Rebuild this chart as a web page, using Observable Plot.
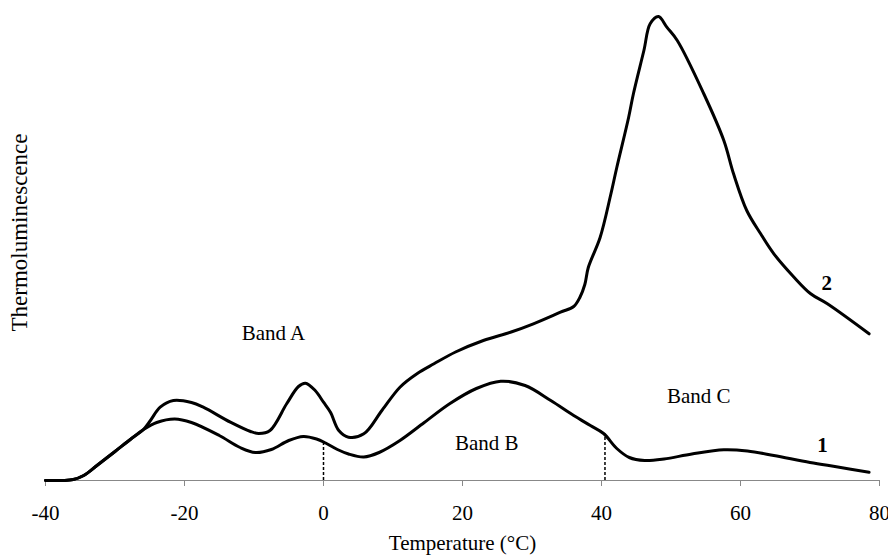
<!DOCTYPE html>
<html>
<head>
<meta charset="utf-8">
<script src="https://cdn.jsdelivr.net/npm/d3@7"></script>
<script src="https://cdn.jsdelivr.net/npm/@observablehq/plot@0.6"></script>
<style>
  html, body { margin: 0; padding: 0; background: #fff; }
</style>
</head>
<body>
<div id="chart"></div>
<script>
// Curve 1 (temperature °C, thermoluminescence a.u.)
const curve1 = [
  [-40,0],[-37.5,0],[-36,1],[-34.5,5],[-32.6,15],[-30,29],[-27.8,41],[-25.9,51],[-24,58],[-21.4,61.5],[-19,58],
  [-15,45],[-12,33],[-9.8,28],[-7.5,31],[-5,40],[-2.9,44],[-1,41.5],[0.3,37.5],[2,31],[3.6,26.5],
  [5.8,23.5],[8,28],[11,40],[14.5,58],[18.2,77],[22,92],[25.5,99.3],[29,95],[32.7,80],[36,65],
  [38.4,55],[40.3,47],[42.2,32],[44,23],[46.2,20],[49,21.5],[53,26.5],[57.6,30.7],[61,29.5],[64.8,25],
  [70,18],[74,13.5],[78.5,8.3]
];
// Curve 2
const curve2 = [
  [-40,0],[-37.5,0],[-36,1],[-34.5,5],[-32.6,15],[-30,29],[-27.8,41],[-25.9,51],[-24.9,60],[-23.5,73.3],[-21.6,80],
  [-19,78],[-17.3,73.3],[-13.4,58.3],[-10.5,49],[-9.3,47],[-7.7,50],[-5.3,76.7],[-3.6,94],[-2.6,97.3],[-1.2,90],
  [0,78.3],[1,68.3],[2.2,50],[3.6,43.3],[5.8,46.7],[8.4,70],[11,93.3],[13.5,107],[15.9,116.7],[19,128.5],
  [23,140],[27,148.5],[30.2,156.7],[34.1,168.3],[36,174],[36.9,183.3],[37.6,196],[38.1,213],[39.8,243],[41.3,285],
  [42.2,313],[43.9,363],[44.6,387],[46.1,430],[47,456.7],[48.2,464],[49.4,453.3],[50.9,440],[54.7,387],
  [57.6,340],[59,306.7],[60.9,270],[62.9,246.7],[64.8,226.7],[67.7,203.3],[70.1,186.7],[72.5,176.7],[78.5,146.7]
];
const xTicks = [-40, -20, 0, 20, 40, 60, 80];
const dividerX = [0, 40.5];
const dividerTop = [37, 46.5];
const bandNames = ["Band A", "Band B", "Band C"];
const bandX = [-7.2, 23.5, 54];
const bandY = [147, 37.5, 84];
const curveNames = ["1", "2"];
const curveLabelX = [71.8, 72.4];
const curveLabelY = [35.5, 197];
const xLabel = "Temperature (°C)";
const yLabel = "Thermoluminescence";

const series = [
  ...curve1.map(([t, v]) => ({t, v, s: "1"})),
  ...curve2.map(([t, v]) => ({t, v, s: "2"}))
];
const dividers = dividerX.map((x, i) => ({x, top: dividerTop[i]}));
const bands = bandNames.map((name, i) => ({name, x: bandX[i], y: bandY[i]}));
const curveLabels = curveNames.map((name, i) => ({name, x: curveLabelX[i], y: curveLabelY[i]}));

const chart = Plot.plot({
  width: 888,
  height: 556,
  marginLeft: 45,
  marginRight: 9,
  marginTop: 16,
  marginBottom: 76,
  style: {fontFamily: "'Liberation Serif', 'Times New Roman', serif", fontSize: "21px", color: "#000", background: "#fff", overflow: "visible"},
  x: {domain: [-40, 80]},
  y: {domain: [0, 464]},
  marks: [
    Plot.ruleY([0], {stroke: "#888", strokeWidth: 1.2}),
    Plot.axisX({ticks: xTicks, tickSize: 6, tickPadding: 19, stroke: "#888", fill: "#000", label: null, tickFormat: d => String(d)}),
    Plot.axisY({ticks: [], label: null}),
    Plot.ruleX(dividers, {x: "x", y1: 0, y2: "top", stroke: "#000", strokeWidth: 1.5, strokeDasharray: "3,2"}),
    Plot.line(series, {x: "t", y: "v", z: "s", stroke: "#000", strokeWidth: 3, curve: "catmull-rom"}),
    Plot.text(bands, {x: "x", y: "y", text: "name", fontSize: 21, fill: "#000"}),
    Plot.text(curveLabels, {x: "x", y: "y", text: "name", fontSize: 21, fontWeight: "bold", fill: "#000"}),
    Plot.text([xLabel], {frameAnchor: "bottom", dy: 69, fontSize: 21, fill: "#000"}),
    Plot.text([yLabel], {frameAnchor: "left", textAnchor: "middle", rotate: -90, dx: -26, dy: -16, fontSize: 23, fill: "#000"})
  ]
});
document.getElementById("chart").appendChild(chart);
</script>
</body>
</html>
